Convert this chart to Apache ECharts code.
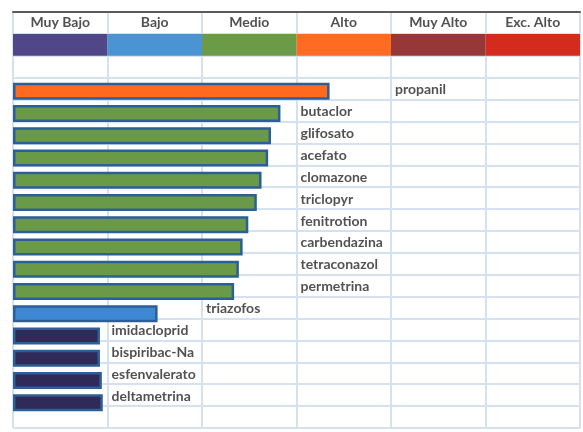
<!DOCTYPE html>
<html><head><meta charset="utf-8">
<script src="https://cdn.jsdelivr.net/npm/echarts@6/dist/echarts.min.js"></script>
<style>html,body{margin:0;padding:0;background:#fff}#c{width:583px;height:432px}</style>
</head><body><div id="c"></div>
<script>
const levels = ['Muy Bajo','Bajo','Medio','Alto','Muy Alto','Exc. Alto'];
const levelColors = ['#4F4788','#4A94D4','#6B9A48','#FF6B22','#963838','#D42B1E'];
const chemicals = ['propanil','butaclor','glifosato','acefato','clomazone','triclopyr','fenitrotion','carbendazina','tetraconazol','permetrina','triazofos','imidacloprid','bispiribac-Na','esfenvalerato','deltametrina'];
const values = [3.35,2.83,2.73,2.70,2.63,2.58,2.49,2.43,2.39,2.34,1.53,0.92,0.92,0.94,0.95];
const barLevel = [3,2,2,2,2,2,2,2,2,2,1,0,0,0,0];
const barColors = ['#2F2A58','#3D88D0','#6A9A47','#FF6A1E'];
const labelColumn = [4,3,3,3,3,3,3,3,3,3,2,1,1,1,1];
const tableRows = ['header','band','blank'].concat(chemicals).concat(['end']);

const font = 'Lato, "Open Sans", sans-serif';
const gridColor = '#D5E1EF';
const chart = echarts.init(document.getElementById('c'));
chart.setOption({
  animation: false,
  backgroundColor: '#fff',
  grid: [
    {left: 13, right: 3, top: 12, bottom: 4},
    {left: 13, right: 3, top: 80, bottom: 18}
  ],
  xAxis: [
    {gridIndex: 0, type: 'value', min: 0, max: 6, interval: 1, position: 'top',
     axisLine: {show: true, lineStyle: {color: '#5a5a5a', width: 2}},
     axisTick: {show: false}, axisLabel: {show: false},
     splitLine: {show: true, lineStyle: {color: gridColor, width: 2}}},
    {gridIndex: 1, type: 'value', min: 0, max: 6, show: false}
  ],
  yAxis: [
    {gridIndex: 0, type: 'category', data: tableRows, inverse: true,
     axisLine: {show: false}, axisTick: {show: false}, axisLabel: {show: false},
     splitLine: {show: true, lineStyle: {color: gridColor, width: 2}}},
    {gridIndex: 1, type: 'category', data: chemicals, inverse: true, show: false}
  ],
  series: [
    {
      type: 'custom', xAxisIndex: 0, yAxisIndex: 0, silent: true,
      data: levels.map((n, i) => [i, 1]),
      renderItem: function (params, api) {
        const p0 = api.coord([api.value(0), api.value(1)]);
        const p1 = api.coord([api.value(0) + 1, api.value(1)]);
        const h = api.size([0, 1])[1];
        return {type: 'rect', shape: {x: p0[0], y: p0[1] - h / 2, width: p1[0] - p0[0], height: h},
                style: {fill: levelColors[params.dataIndex]}};
      }
    },
    {
      type: 'scatter', xAxisIndex: 0, yAxisIndex: 0, symbolSize: 0, silent: true,
      data: levels.map((n, i) => [i + 0.5, 0]),
      label: {show: true, position: 'inside', formatter: p => levels[p.dataIndex],
              color: '#262626', fontWeight: 'bold', fontSize: 14, fontFamily: font}
    },
    {
      type: 'scatter', xAxisIndex: 0, yAxisIndex: 0, symbolSize: 0, silent: true,
      data: chemicals.map((n, i) => [labelColumn[i], i + 3]),
      label: {show: true, position: 'right', distance: 4, offset: [0, 1], formatter: p => chemicals[p.dataIndex],
              color: '#262626', fontWeight: 'bold', fontSize: 14, fontFamily: font}
    },
    {
      type: 'bar', xAxisIndex: 1, yAxisIndex: 1, barWidth: 17, silent: true,
      data: values.map((v, i) => ({value: v, itemStyle: {color: barColors[barLevel[i]]}})),
      itemStyle: {borderColor: '#2C5F97', borderWidth: 2.5}
    }
  ]
});
</script></body></html>
